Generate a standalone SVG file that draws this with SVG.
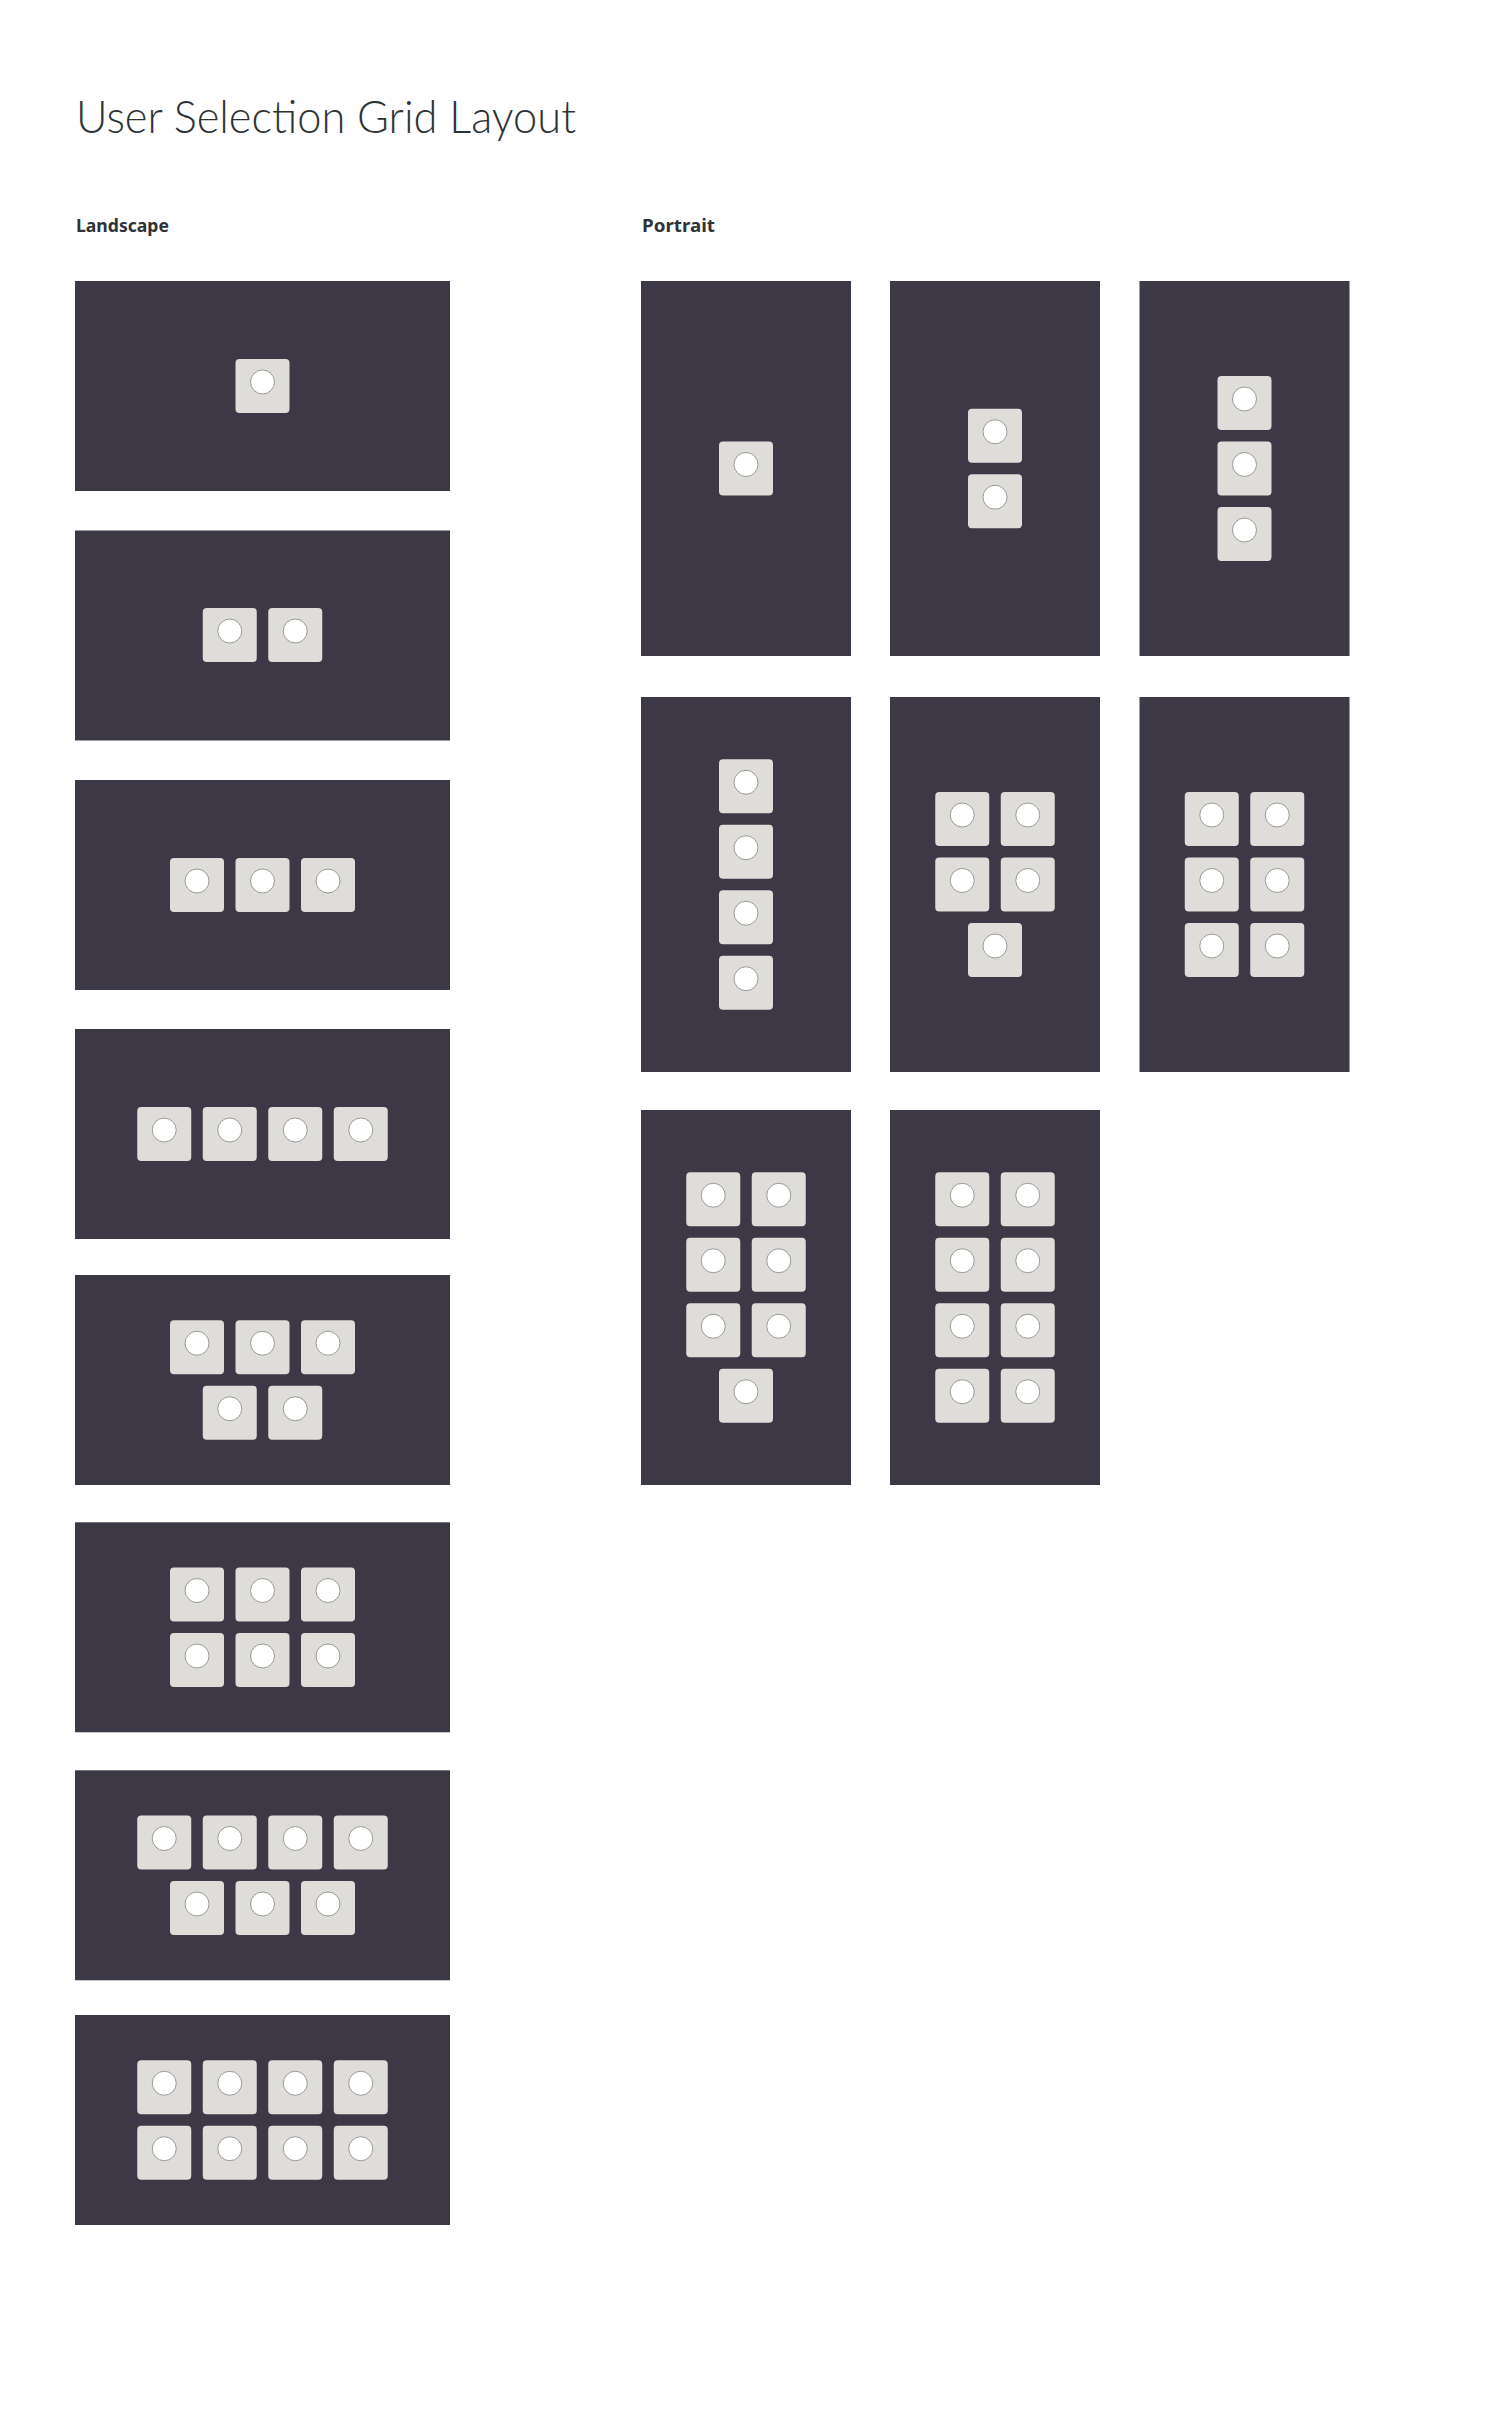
<svg xmlns="http://www.w3.org/2000/svg" xmlns:xlink="http://www.w3.org/1999/xlink" width="1509" height="2419" viewBox="0 0 1509 2419">
<style>
.bg{fill:#ffffff}
.title{font-family:"Lato","Open Sans",sans-serif;font-weight:300;font-size:46px;fill:#2e3436}
.label{font-family:"Noto Sans","Open Sans",sans-serif;font-weight:700;font-size:17px;fill:#2e3436}
.panel{fill:#3d3846}
.tile{fill:#deddda}
.dot{fill:#ffffff;stroke:#9a9996;stroke-width:1}
</style>
<defs>
<g id="tile"><rect width="54" height="54" rx="4" class="tile"/><circle cx="27" cy="23" r="12" class="dot"/></g>
</defs>
<rect class="bg" x="0" y="0" width="1509" height="2419"/>
<text class="title" x="76" y="133" textLength="500" lengthAdjust="spacingAndGlyphs">User Selection Grid Layout</text>
<text class="label" x="76" y="232" textLength="93" lengthAdjust="spacingAndGlyphs">Landscape</text>
<text class="label" x="642" y="232" textLength="73" lengthAdjust="spacingAndGlyphs">Portrait</text>

<g id="connectors"></g>

<g id="landscape-1">
<rect class="panel" x="75" y="281" width="375" height="210"/>
<use href="#tile" x="235.5" y="359"/>
</g>
<g id="landscape-2">
<rect class="panel" x="75" y="530.5" width="375" height="210"/>
<use href="#tile" x="202.75" y="608"/><use href="#tile" x="268.25" y="608"/>
</g>
<g id="landscape-3">
<rect class="panel" x="75" y="780" width="375" height="210"/>
<use href="#tile" x="170" y="858"/><use href="#tile" x="235.5" y="858"/><use href="#tile" x="301" y="858"/>
</g>
<g id="landscape-4">
<rect class="panel" x="75" y="1029" width="375" height="210"/>
<use href="#tile" x="137.25" y="1107"/><use href="#tile" x="202.75" y="1107"/><use href="#tile" x="268.25" y="1107"/><use href="#tile" x="333.75" y="1107"/>
</g>
<g id="landscape-5">
<rect class="panel" x="75" y="1275" width="375" height="210"/>
<use href="#tile" x="170" y="1320.25"/><use href="#tile" x="235.5" y="1320.25"/><use href="#tile" x="301" y="1320.25"/>
<use href="#tile" x="202.75" y="1385.75"/><use href="#tile" x="268.25" y="1385.75"/>
</g>
<g id="landscape-6">
<rect class="panel" x="75" y="1522.3" width="375" height="210"/>
<use href="#tile" x="170" y="1567.5"/><use href="#tile" x="235.5" y="1567.5"/><use href="#tile" x="301" y="1567.5"/>
<use href="#tile" x="170" y="1633"/><use href="#tile" x="235.5" y="1633"/><use href="#tile" x="301" y="1633"/>
</g>
<g id="landscape-7">
<rect class="panel" x="75" y="1770.3" width="375" height="210"/>
<use href="#tile" x="137.25" y="1815.5"/><use href="#tile" x="202.75" y="1815.5"/><use href="#tile" x="268.25" y="1815.5"/><use href="#tile" x="333.75" y="1815.5"/>
<use href="#tile" x="170" y="1881"/><use href="#tile" x="235.5" y="1881"/><use href="#tile" x="301" y="1881"/>
</g>
<g id="landscape-8">
<rect class="panel" x="75" y="2015" width="375" height="210"/>
<use href="#tile" x="137.25" y="2060.25"/><use href="#tile" x="202.75" y="2060.25"/><use href="#tile" x="268.25" y="2060.25"/><use href="#tile" x="333.75" y="2060.25"/>
<use href="#tile" x="137.25" y="2125.75"/><use href="#tile" x="202.75" y="2125.75"/><use href="#tile" x="268.25" y="2125.75"/><use href="#tile" x="333.75" y="2125.75"/>
</g>

<g id="portrait-1">
<rect class="panel" x="641" y="281" width="210" height="375"/>
<use href="#tile" x="719" y="441.5"/>
</g>
<g id="portrait-2">
<rect class="panel" x="890" y="281" width="210" height="375"/>
<use href="#tile" x="968" y="408.75"/><use href="#tile" x="968" y="474.25"/>
</g>
<g id="portrait-3">
<rect class="panel" x="1139.5" y="281" width="210" height="375"/>
<use href="#tile" x="1217.5" y="376"/><use href="#tile" x="1217.5" y="441.5"/><use href="#tile" x="1217.5" y="507"/>
</g>
<g id="portrait-4">
<rect class="panel" x="641" y="697" width="210" height="375"/>
<use href="#tile" x="719" y="759.25"/><use href="#tile" x="719" y="824.75"/><use href="#tile" x="719" y="890.25"/><use href="#tile" x="719" y="955.75"/>
</g>
<g id="portrait-5">
<rect class="panel" x="890" y="697" width="210" height="375"/>
<use href="#tile" x="935.25" y="792"/><use href="#tile" x="1000.75" y="792"/>
<use href="#tile" x="935.25" y="857.5"/><use href="#tile" x="1000.75" y="857.5"/>
<use href="#tile" x="968" y="923"/>
</g>
<g id="portrait-6">
<rect class="panel" x="1139.5" y="697" width="210" height="375"/>
<use href="#tile" x="1184.75" y="792"/><use href="#tile" x="1250.25" y="792"/>
<use href="#tile" x="1184.75" y="857.5"/><use href="#tile" x="1250.25" y="857.5"/>
<use href="#tile" x="1184.75" y="923"/><use href="#tile" x="1250.25" y="923"/>
</g>
<g id="portrait-7">
<rect class="panel" x="641" y="1110" width="210" height="375"/>
<use href="#tile" x="686.25" y="1172.25"/><use href="#tile" x="751.75" y="1172.25"/>
<use href="#tile" x="686.25" y="1237.75"/><use href="#tile" x="751.75" y="1237.75"/>
<use href="#tile" x="686.25" y="1303.25"/><use href="#tile" x="751.75" y="1303.25"/>
<use href="#tile" x="719" y="1368.75"/>
</g>
<g id="portrait-8">
<rect class="panel" x="890" y="1110" width="210" height="375"/>
<use href="#tile" x="935.25" y="1172.25"/><use href="#tile" x="1000.75" y="1172.25"/>
<use href="#tile" x="935.25" y="1237.75"/><use href="#tile" x="1000.75" y="1237.75"/>
<use href="#tile" x="935.25" y="1303.25"/><use href="#tile" x="1000.75" y="1303.25"/>
<use href="#tile" x="935.25" y="1368.75"/><use href="#tile" x="1000.75" y="1368.75"/>
</g>
</svg>
